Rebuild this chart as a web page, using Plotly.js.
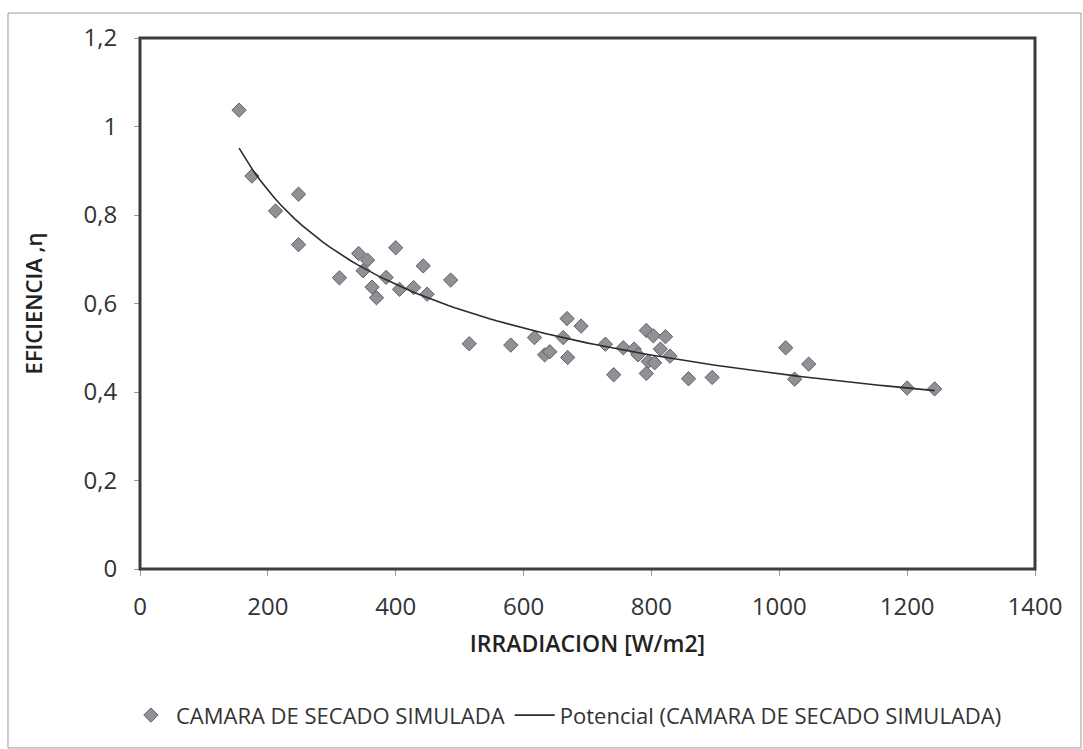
<!DOCTYPE html>
<html>
<head>
<meta charset="utf-8">
<script src="https://cdn.plot.ly/plotly-3.0.1.min.js"></script>
<style>html,body{margin:0;padding:0;background:#fff;}#chart{width:1083px;height:749px;}</style>
</head>
<body>
<div id="chart"></div>
<script>
// Irradiación [W/m2]
const irradiacion = [155, 175, 248, 212, 248, 342, 356, 349, 312, 363, 400, 443, 385, 370, 406, 428, 449, 486, 515, 580, 617, 633, 641, 668, 690, 662, 669, 728, 756, 773, 779, 741, 792, 803, 822, 814, 829, 795, 805, 792, 858, 895, 1010, 1046, 1024, 1200, 1243];
// Eficiencia
const eficiencia = [1.037, 0.888, 0.847, 0.809, 0.733, 0.713, 0.698, 0.674, 0.658, 0.637, 0.726, 0.685, 0.659, 0.613, 0.632, 0.636, 0.621, 0.653, 0.509, 0.506, 0.523, 0.484, 0.491, 0.566, 0.549, 0.523, 0.478, 0.508, 0.500, 0.497, 0.484, 0.439, 0.539, 0.527, 0.525, 0.497, 0.481, 0.469, 0.466, 0.442, 0.430, 0.433, 0.500, 0.463, 0.429, 0.409, 0.407];
const xTicks = [0, 200, 400, 600, 800, 1000, 1200, 1400];
const yTicks = [0, 0.2, 0.4, 0.6, 0.8, 1, 1.2];
const serieNombre = 'CAMARA DE SECADO SIMULADA';
const tendenciaNombre = 'Potencial (CAMARA DE SECADO SIMULADA)';

// Power trendline (least squares in log-log space), like a spreadsheet "Potencial" trendline
let n = irradiacion.length, sx = 0, sy = 0, sxx = 0, sxy = 0;
for (let i = 0; i < n; i++) {
  const lx = Math.log(irradiacion[i]), ly = Math.log(eficiencia[i]);
  sx += lx; sy += ly; sxx += lx * lx; sxy += lx * ly;
}
const b = (n * sxy - sx * sy) / (n * sxx - sx * sx);
const a = Math.exp((sy - b * sx) / n);
const xmin = Math.min(...irradiacion), xmax = Math.max(...irradiacion);
const trendX = [], trendY = [];
for (let k = 0; k <= 100; k++) {
  const x = xmin + (xmax - xmin) * k / 100;
  trendX.push(x); trendY.push(a * Math.pow(x, b));
}

const FONT = '"Open Sans", Lato, "Liberation Sans", sans-serif';

const traces = [
  {
    x: irradiacion, y: eficiencia, type: 'scatter', mode: 'markers', name: serieNombre,
    marker: {symbol: 'diamond', size: 11, color: '#909096', line: {color: '#606068', width: 1}}
  },
  {
    x: trendX, y: trendY, type: 'scatter', mode: 'lines', name: tendenciaNombre,
    line: {color: '#2b2b2b', width: 1.6}
  }
];

const layout = {
  width: 1083, height: 749,
  margin: {l: 140, r: 48, t: 38, b: 180, autoexpand: false},
  paper_bgcolor: '#ffffff', plot_bgcolor: '#ffffff',
  separators: ',.',
  font: {family: FONT, color: '#333333', size: 18},
  showlegend: true,
  legend: {orientation: 'h', xref: 'container', yref: 'container', x: 0.523, xanchor: 'center',
           y: 0.045, yanchor: 'middle',
           font: {family: FONT, size: 22, color: '#333'}, itemwidth: 40, traceorder: 'normal'},
  xaxis: {
    range: [0, 1400], tickvals: xTicks, showgrid: false, zeroline: false, automargin: false,
    showline: false, ticks: 'outside', ticklen: 6, tickcolor: '#999', tickwidth: 1,
    ticklabelstandoff: 10,
    tickfont: {family: FONT, size: 24, color: '#333'},
    title: {text: 'IRRADIACION [W/m2]', standoff: 15, font: {family: FONT, size: 23, color: '#222', weight: 600}}
  },
  yaxis: {
    range: [0, 1.2], tickvals: yTicks, showgrid: false, zeroline: false, automargin: false,
    showline: false, ticks: 'outside', ticklen: 5, tickcolor: '#999', tickwidth: 1,
    ticklabelstandoff: 12,
    tickfont: {family: FONT, size: 24, color: '#333'},
    title: {text: 'EFICIENCIA ,η', standoff: 34, font: {family: FONT, size: 22, color: '#222', weight: 600}}
  },
  shapes: [
    {type: 'rect', xref: 'paper', yref: 'paper', x0: 0, x1: 1, y0: 0, y1: 1,
     line: {color: '#3c3c3c', width: 3}, fillcolor: 'rgba(0,0,0,0)', layer: 'above'},
    {type: 'rect', xref: 'paper', yref: 'paper', x0: -0.1475, x1: 1.0514, y0: -0.337, y1: 1.047,
     line: {color: '#9a9a9a', width: 1}, fillcolor: 'rgba(0,0,0,0)'}
  ]
};

Plotly.newPlot('chart', traces, layout, {displayModeBar: false, staticPlot: true});
</script>
</body>
</html>
